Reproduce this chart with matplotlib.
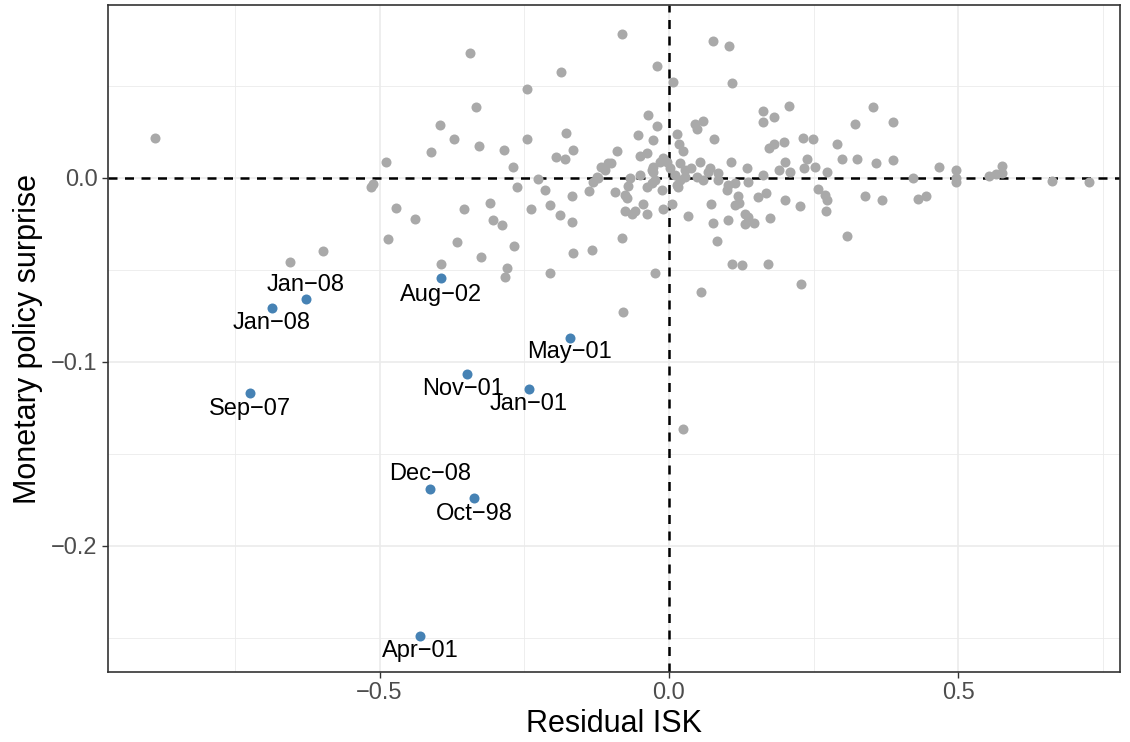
import matplotlib
matplotlib.use("Agg")
import matplotlib.pyplot as plt

plt.rcParams["font.family"] = ["Liberation Sans", "DejaVu Sans"]

# -- Data: residual ISK (x) vs monetary policy surprise (y), unlabelled months
resid_isk = [
    -0.888, -0.344, -0.187, -0.245, -0.333, -0.396, -0.371, -0.411, -0.328, -0.285,
    -0.245, -0.178, -0.166, -0.195, -0.180, -0.489, -0.269, -0.117, -0.105, -0.081,
    0.076, 0.104, -0.021, 0.007, 0.109, 0.162, 0.207, 0.181, 0.162, 0.321,
    -0.036, -0.021, -0.054, -0.028, 0.014, 0.017, 0.024, 0.045, 0.059, 0.048,
    0.078, -0.090, -0.100, -0.050, -0.038, -0.028, -0.016, -0.003, 0.019, 0.038,
    0.054, 0.071, 0.107, 0.135, 0.173, 0.181, 0.199, 0.231, 0.249, 0.290,
    0.299, 0.325, 0.200, 0.238, 0.233, 0.252, 0.273, 0.190, 0.209, 0.352,
    0.387, 0.358, 0.387, 0.466, 0.496, 0.575, -0.655, -0.598, -0.515, -0.511,
    -0.263, -0.226, -0.214, -0.168, -0.138, -0.124, -0.111, -0.472, -0.439, -0.354,
    -0.309, -0.304, -0.288, -0.238, -0.206, -0.188, -0.168, -0.485, -0.366, -0.268,
    -0.325, -0.394, -0.280, -0.283, -0.206, -0.166, -0.133, -0.093, -0.076, -0.073,
    -0.071, -0.045, -0.076, -0.064, -0.059, -0.038, -0.010, -0.012, -0.038, -0.029,
    -0.024, -0.029, 0.005, 0.033, 0.014, 0.048, 0.059, 0.085, 0.085, 0.073,
    0.076, 0.083, 0.102, 0.100, 0.102, 0.114, 0.119, 0.114, 0.121, 0.136,
    0.131, 0.136, 0.131, 0.147, 0.154, 0.168, 0.162, 0.174, 0.200, 0.226,
    0.257, 0.269, 0.273, 0.271, 0.307, -0.081, -0.024, 0.055, 0.109, 0.126,
    0.171, 0.228, -0.079, 0.024, 0.339, 0.368, 0.430, 0.444, 0.496, 0.496,
    0.421, 0.553, 0.565, 0.575, 0.661, 0.725, -0.131, -0.123, -0.067, -0.050,
    -0.010, 0.002, 0.028, 0.010, 0.019, 0.028, 0.016, -0.028, 0.067,
]
mp_surprise = [
    0.0217, 0.0679, 0.0576, 0.0484, 0.0386, 0.0288, 0.0212, 0.0141, 0.0174, 0.0152,
    0.0212, 0.0245, 0.0152, 0.0114, 0.0103, 0.0087, 0.0060, 0.0060, 0.0082, 0.0783,
    0.0745, 0.0717, 0.0609, 0.0522, 0.0516, 0.0364, 0.0391, 0.0332, 0.0304, 0.0293,
    0.0342, 0.0283, 0.0234, 0.0207, 0.0239, 0.0185, 0.0147, 0.0293, 0.0310, 0.0266,
    0.0212, 0.0147, 0.0082, 0.0120, 0.0136, 0.0060, 0.0087, 0.0087, 0.0082, 0.0054,
    0.0087, 0.0054, 0.0087, 0.0054, 0.0163, 0.0185, 0.0196, 0.0217, 0.0212, 0.0185,
    0.0103, 0.0103, 0.0087, 0.0103, 0.0054, 0.0060, 0.0033, 0.0043, 0.0033, 0.0386,
    0.0304, 0.0082, 0.0098, 0.0060, 0.0043, 0.0065, -0.0457, -0.0397, -0.0049, -0.0033,
    -0.0049, -0.0005, -0.0065, -0.0098, -0.0071, 0.0005, 0.0043, -0.0163, -0.0223, -0.0168,
    -0.0136, -0.0228, -0.0255, -0.0168, -0.0147, -0.0201, -0.0239, -0.0332, -0.0348, -0.0370,
    -0.0429, -0.0467, -0.0489, -0.0538, -0.0516, -0.0408, -0.0391, -0.0076, -0.0092, -0.0109,
    -0.0043, -0.0141, -0.0179, -0.0196, -0.0179, -0.0196, -0.0168, -0.0065, -0.0049, -0.0027,
    -0.0011, 0.0043, -0.0141, -0.0207, -0.0038, 0.0005, -0.0011, 0.0027, -0.0011, -0.0141,
    -0.0245, -0.0342, -0.0228, -0.0065, -0.0038, -0.0027, -0.0098, -0.0147, -0.0136, -0.0022,
    -0.0196, -0.0212, -0.0250, -0.0245, -0.0103, -0.0082, 0.0016, -0.0217, -0.0120, -0.0152,
    -0.0060, -0.0092, -0.0120, -0.0179, -0.0315, -0.0326, -0.0516, -0.0620, -0.0467, -0.0473,
    -0.0467, -0.0576, -0.0728, -0.1364, -0.0098, -0.0120, -0.0114, -0.0098, -0.0022, 0.0000,
    0.0000, 0.0011, 0.0022, 0.0027, -0.0016, -0.0022, -0.0022, 0.0000, 0.0000, 0.0016,
    0.0109, 0.0054, 0.0043, 0.0016, -0.0011, 0.0005, -0.0049, 0.0033, 0.0033,
]

# -- Highlighted episodes
event_labels = ["Jan\u221208", "Jan\u221208", "Aug\u221202", "May\u221201", "Nov\u221201",
                "Jan\u221201", "Sep\u221207", "Dec\u221208", "Oct\u221298", "Apr\u221201"]
event_x = [-0.627, -0.686, -0.394, -0.171, -0.349, -0.242, -0.724, -0.413, -0.337, -0.430]
event_y = [-0.0658, -0.0707, -0.0543, -0.0870, -0.1065, -0.1147, -0.1168, -0.1690, -0.1740, -0.2490]

# label offsets (points) relative to each highlighted point
label_offsets = [(0, 10), (0, -11), (0, -12), (0, -10), (-3, -11),
                 (0, -11), (0, -11.5), (0, 11), (0, -11.5), (0, -11)]

x_ticks = [-0.5, 0.0, 0.5]
y_ticks = [-0.2, -0.1, 0.0]

fig = plt.figure(figsize=(11.3, 7.42), dpi=100)
ax = fig.add_axes([0.0956, 0.0943, 0.8955, 0.899])

ax.set_xlim(-0.969, 0.779)
ax.set_ylim(-0.2685, 0.094)

# ggplot theme_bw style grid
grid_col = "#EBEBEB"
for v in [-0.75, -0.25, 0.25, 0.75]:
    ax.axvline(v, color=grid_col, lw=0.6, zorder=0)
for v in [-0.25, -0.15, -0.05, 0.05]:
    ax.axhline(v, color=grid_col, lw=0.6, zorder=0)
for v in x_ticks:
    ax.axvline(v, color=grid_col, lw=1.2, zorder=0)
for v in y_ticks:
    ax.axhline(v, color=grid_col, lw=1.2, zorder=0)

ax.axhline(0, color="black", lw=1.8, linestyle=(0, (3.6, 3.0)), zorder=1)
ax.axvline(0, color="black", lw=1.8, linestyle=(0, (3.6, 3.0)), zorder=1)

ax.scatter(resid_isk, mp_surprise, s=52, color="#A9A9A9", linewidths=0, zorder=2)
ax.scatter(event_x, event_y, s=52, color="#4682B4", linewidths=0, zorder=3)

for lab, x, y, off in zip(event_labels, event_x, event_y, label_offsets):
    ax.annotate(lab, xy=(x, y), xytext=off, textcoords="offset points",
                ha="center", va="center", fontsize=17, color="black", zorder=4)

ax.set_xticks(x_ticks)
ax.set_yticks(y_ticks)
ax.set_xticklabels(["\u22120.5", "0.0", "0.5"])
ax.set_yticklabels(["\u22120.2", "\u22120.1", "0.0"])
ax.tick_params(axis="both", labelsize=17, colors="#333333", length=4, width=1,
               labelcolor="#4D4D4D")

for s in ax.spines.values():
    s.set_color("#333333")
    s.set_linewidth(1.2)

ax.set_xlabel("Residual ISK", fontsize=22, labelpad=3)
ax.set_ylabel("Monetary policy surprise", fontsize=22, labelpad=6)

fig.savefig("out.png", dpi=100)
